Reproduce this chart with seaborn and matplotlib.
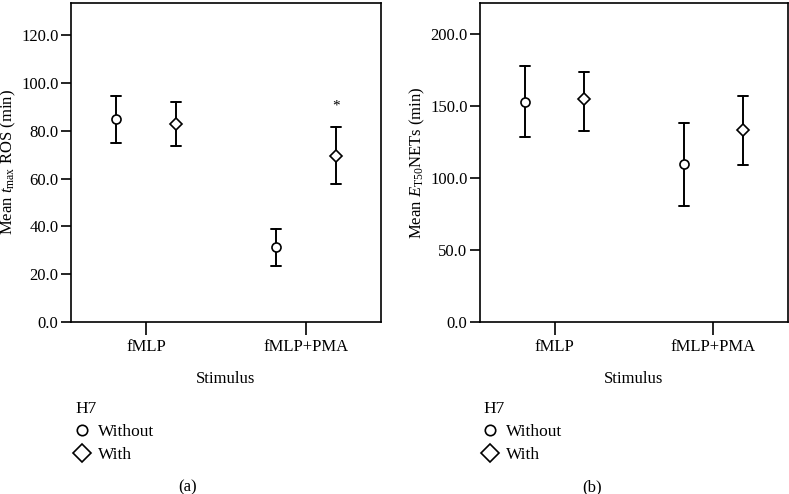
import numpy as np
import pandas as pd
import matplotlib
matplotlib.use("Agg")
import matplotlib.pyplot as plt
import seaborn as sns
from matplotlib.ticker import FormatStrFormatter

# ---------------- data ----------------
stimulus = ["fMLP", "fMLP+PMA"]
h7_levels = ["Without", "With"]

# (a) Mean t_max ROS (min)
ros_without_mean = [84.8, 31.2]
ros_without_lo = [74.8, 23.5]
ros_without_hi = [94.5, 38.8]
ros_with_mean = [83.0, 69.3]
ros_with_lo = [73.8, 57.6]
ros_with_hi = [92.2, 81.6]

# (b) Mean E_T50 NETs (min)
nets_without_mean = [152.9, 110.0]
nets_without_lo = [128.3, 80.3]
nets_without_hi = [177.6, 138.4]
nets_with_mean = [154.6, 133.6]
nets_with_lo = [132.9, 108.9]
nets_with_hi = [173.7, 156.6]

ros_ticks = [0, 20, 40, 60, 80, 100, 120]
nets_ticks = [0, 50, 100, 150, 200]


def long_frame(w_mean, w_lo, w_hi, h_mean, h_lo, h_hi):
    rows = []
    for lvl, m, lo, hi in (("Without", w_mean, w_lo, w_hi), ("With", h_mean, h_lo, h_hi)):
        for i, s in enumerate(stimulus):
            for v in (lo[i], m[i], hi[i]):
                rows.append({"Stimulus": s, "H7": lvl, "value": v})
    return pd.DataFrame(rows)


df_ros = long_frame(ros_without_mean, ros_without_lo, ros_without_hi,
                    ros_with_mean, ros_with_lo, ros_with_hi)
df_nets = long_frame(nets_without_mean, nets_without_lo, nets_without_hi,
                     nets_with_mean, nets_with_lo, nets_with_hi)

# ---------------- style ----------------
sns.set_style("ticks")
plt.rcParams["font.family"] = ["Liberation Serif", "DejaVu Serif"]
plt.rcParams["mathtext.fontset"] = "custom"
plt.rcParams["mathtext.rm"] = "Liberation Serif"
plt.rcParams["mathtext.it"] = "Liberation Serif:italic"
plt.rcParams["axes.edgecolor"] = "black"
plt.rcParams["axes.linewidth"] = 1.2
plt.rcParams["xtick.color"] = "black"
plt.rcParams["ytick.color"] = "black"
plt.rcParams["text.color"] = "black"
plt.rcParams["axes.labelcolor"] = "black"

fig = plt.figure(figsize=(7.89, 4.94), dpi=100)
ax1 = fig.add_axes([71 / 789, 1 - 322 / 494, 310 / 789, 319 / 494])
ax2 = fig.add_axes([480 / 789, 1 - 322 / 494, 308 / 789, 319 / 494])

DODGE = 0.375
MSIZE = {"o": 6.5, "D": 6.5}
LEG_MSIZE = {"o": 7.5, "D": 9}


def draw(ax, df, ylim, ticks, ylabel, anchor_px):
    sns.pointplot(
        data=df, x="Stimulus", y="value", hue="H7",
        order=stimulus, hue_order=h7_levels,
        estimator="median", errorbar=lambda v: (v.min(), v.max()),
        dodge=DODGE, markers=["o", "D"], linestyle="none",
        palette=["black", "black"], capsize=0.0625,
        err_kws={"linewidth": 1.4}, markersize=6.5, markeredgewidth=1.2,
        ax=ax,
    )
    for ln in ax.lines:
        mk = ln.get_marker()
        if mk in MSIZE:
            ln.set_markerfacecolor("white")
            ln.set_markeredgecolor("black")
            ln.set_markersize(MSIZE[mk])
            ln.set_zorder(5)
    ax.set_xlim(-0.47, 1.47)
    ax.set_ylim(*ylim)
    ax.set_yticks(ticks)
    ax.yaxis.set_major_formatter(FormatStrFormatter("%.1f"))
    for s in ("top", "right", "left", "bottom"):
        ax.spines[s].set_visible(True)
        ax.spines[s].set_linewidth(1.2)
    ax.tick_params(axis="y", direction="out", length=7, width=1.2, labelsize=12, pad=2)
    ax.tick_params(axis="x", direction="out", length=9, width=1.2, labelsize=12, pad=3)
    ax.set_xlabel("Stimulus", fontsize=12, labelpad=12)
    ax.set_ylabel(ylabel, fontsize=12, labelpad=2)
    ax.grid(False)
    leg = ax.get_legend()
    handles = leg.legend_handles
    labels = [t.get_text() for t in leg.get_texts()]
    leg.remove()
    for h in handles:
        mk = h.get_marker()
        h.set_markerfacecolor("white")
        h.set_markeredgecolor("black")
        h.set_markersize(LEG_MSIZE.get(mk, 8))
        h.set_markeredgewidth(1.2)
        h.set_linestyle("none")
    new = ax.legend(handles, labels, title="H7", loc="upper left",
                    bbox_to_anchor=(anchor_px[0] / 789, 1 - anchor_px[1] / 494),
                    bbox_transform=fig.transFigure, frameon=False,
                    fontsize=12.5, title_fontsize=12.5, handlelength=0.7,
                    handletextpad=0.6, labelspacing=0.4, borderpad=0.3)
    new._legend_box.align = "left"


draw(ax1, df_ros, (0, 133.5), ros_ticks, r"Mean $t_{\mathrm{max}}$ ROS (min)", (62, 387))
draw(ax2, df_nets, (0, 221.5), nets_ticks, r"Mean $E_{\mathrm{T50}}$NETs (min)", (470, 387))

# significance mark on (a)
ax1.text(1 + DODGE / 2, 90.5, "*", ha="center", va="center", fontsize=11)

fig.text(188 / 789, 1 - 487 / 494, "(a)", ha="center", va="center", fontsize=12)
fig.text(592 / 789, 1 - 487 / 494, "(b)", ha="center", va="center", fontsize=12)

fig.savefig("out.png", dpi=100)
